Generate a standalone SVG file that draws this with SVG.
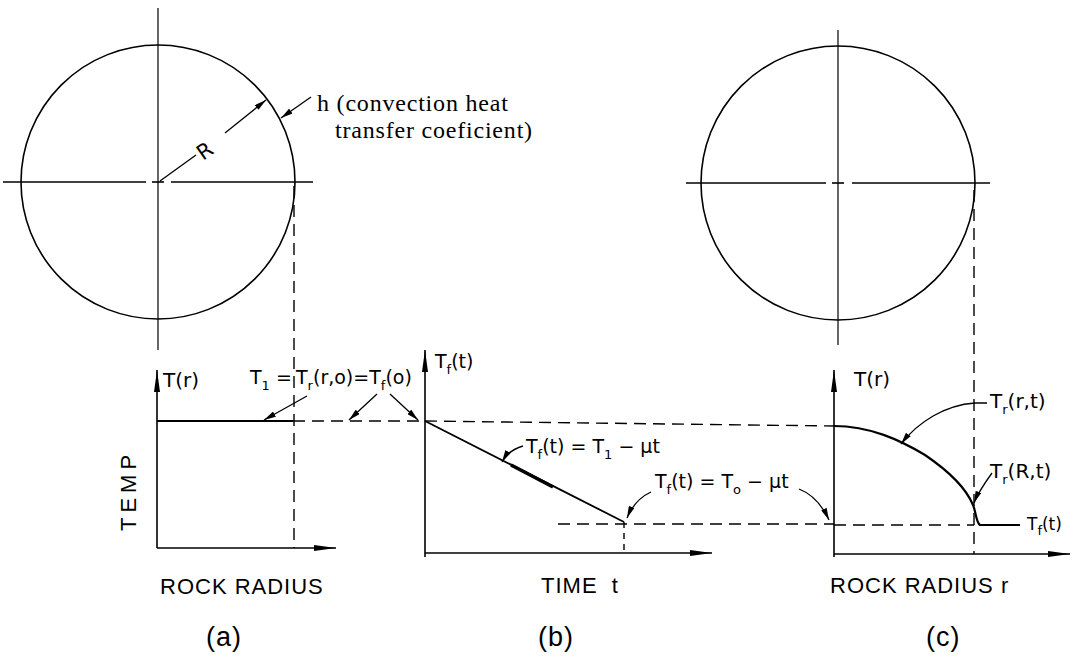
<svg xmlns="http://www.w3.org/2000/svg" width="1084" height="661" viewBox="0 0 1084 661">
<style>
.ln{stroke:#000;stroke-width:1.6;fill:none}
.th{stroke:#000;stroke-width:2.2;fill:none}
.ds{stroke:#000;stroke-width:1.4;fill:none;stroke-dasharray:12 7}
.lb{font-family:"DejaVu Sans","Liberation Sans",sans-serif;font-size:19px;fill:#000}
.cap{font-family:"Liberation Sans","DejaVu Sans",sans-serif;font-size:22px;fill:#000;letter-spacing:1px}
.sr{font-family:"Liberation Serif","Times New Roman",serif;font-size:24px;fill:#000;letter-spacing:0.8px}
.sub{font-size:13px}
</style>
<defs>
<marker id="ah" viewBox="0 0 12 6" refX="12" refY="3" markerWidth="12" markerHeight="6" markerUnits="userSpaceOnUse" orient="auto">
<path d="M0,0 L12,3 L0,6 Z" fill="#000"/>
</marker>
<marker id="ax" viewBox="0 0 22 8" refX="22" refY="4" markerWidth="22" markerHeight="8" markerUnits="userSpaceOnUse" orient="auto">
<path d="M0,1 L22,4 L0,7 Z" fill="#000"/>
</marker>
</defs>

<g id="circle-a">
<circle cx="158" cy="182" r="137" class="ln"/>
<line x1="158" y1="8" x2="158" y2="350" class="ln" style="stroke-width:1.2"/>
<line x1="3" y1="182" x2="146" y2="182" class="ln"/>
<line x1="171" y1="182" x2="313" y2="182" class="ln"/>
<line x1="152" y1="182" x2="164" y2="182" class="ln"/>
<line x1="160" y1="181" x2="196" y2="155" class="ln" style="stroke-width:1.3"/>
<line x1="225" y1="133" x2="266" y2="100" class="ln" style="stroke-width:1.3" marker-end="url(#ah)"/>
<text x="0" y="0" class="lb" style="font-size:21px" transform="translate(203,161) rotate(-35)">R</text>
<line x1="311" y1="97" x2="281" y2="118" class="ln" style="stroke-width:1.3" marker-end="url(#ah)"/>
<text x="317" y="111" class="sr">h (convection heat</text>
<text x="335" y="138" class="sr">transfer coeficient)</text>
</g>

<g id="circle-c">
<circle cx="838" cy="183" r="137" class="ln"/>
<line x1="838" y1="30" x2="838" y2="345" class="ln" style="stroke-width:1.2"/>
<line x1="686" y1="183" x2="826" y2="183" class="ln"/>
<line x1="852" y1="183" x2="990" y2="183" class="ln"/>
<line x1="832" y1="183" x2="844" y2="183" class="ln"/>
</g>

<g id="panel-a">
<line x1="157" y1="548" x2="157" y2="370" class="ln" marker-end="url(#ax)"/>
<line x1="157" y1="548" x2="336" y2="548" class="ln" marker-end="url(#ax)"/>
<line x1="157" y1="421" x2="293" y2="421" class="th"/>
<text x="163" y="387" class="lb" style="font-size:20px">T(r)</text>
<text x="0" y="0" class="cap" style="letter-spacing:5px" transform="translate(136,531) rotate(-90)">TEMP</text>
<text x="160" y="594" class="cap">ROCK RADIUS</text>
<text x="206" y="646" class="cap" style="font-size:27px">(a)</text>
<text x="250" y="384" class="lb">T<tspan class="sub" dy="6">1</tspan><tspan dy="-6"> = </tspan></text>
<text x="296" y="384" class="lb">T<tspan class="sub" dy="6">r</tspan><tspan dy="-6">(r,o)=T</tspan><tspan class="sub" dy="6">f</tspan><tspan dy="-6">(o)</tspan></text>
</g>

<g id="panel-b">
<line x1="425" y1="557" x2="425" y2="350" class="ln" marker-end="url(#ax)"/>
<line x1="425" y1="553" x2="712" y2="553" class="ln" marker-end="url(#ax)"/>
<line x1="425" y1="421" x2="624" y2="522" class="ln" style="stroke-width:1.8"/>
<line x1="511" y1="465" x2="553" y2="487" class="ln" style="stroke-width:3.5"/>
<text x="435" y="368" class="lb">T<tspan class="sub" dy="6">f</tspan><tspan dy="-6">(t)</tspan></text>
<text x="526" y="453" class="lb">T<tspan class="sub" dy="6">f</tspan><tspan dy="-6">(t) = T</tspan><tspan class="sub" dy="6">1</tspan><tspan dy="-6"> − μt</tspan></text>
<text x="655" y="488" class="lb">T<tspan class="sub" dy="6">f</tspan><tspan dy="-6">(t) = T</tspan><tspan class="sub" dy="6">o</tspan><tspan dy="-6"> − μt</tspan></text>
<text x="541" y="593" class="cap" xml:space="preserve">TIME  t</text>
<text x="538" y="646" class="cap" style="font-size:27px">(b)</text>
</g>

<g id="panel-c">
<line x1="834" y1="557" x2="834" y2="370" class="ln" marker-end="url(#ax)"/>
<line x1="834" y1="554" x2="1070" y2="554" class="ln" marker-end="url(#ax)"/>
<path d="M834,426 C870,426 900,440 925,455 C950,472 966,488 973,505 C976,512 976,522 980,525 L1020,525" class="th"/>
<text x="854" y="386" class="lb" style="font-size:20px">T(r)</text>
<text x="990" y="408" class="lb" style="font-size:20px">T<tspan class="sub" dy="6">r</tspan><tspan dy="-6">(r,t)</tspan></text>
<text x="990" y="478" class="lb" style="font-size:20px">T<tspan class="sub" dy="6">r</tspan><tspan dy="-6">(R,t)</tspan></text>
<text x="1027" y="530" class="lb" style="font-size:17px">T<tspan class="sub" dy="5">f</tspan><tspan dy="-5">(t)</tspan></text>
<text x="830" y="593" class="cap">ROCK RADIUS r</text>
<text x="926" y="646" class="cap" style="font-size:27px">(c)</text>
</g>

<g id="connectors">
<line x1="294" y1="186" x2="294" y2="548" class="ds"/>
<line x1="293" y1="421" x2="425" y2="421" class="ds"/>
<line x1="425" y1="421" x2="834" y2="426" class="ds"/>
<line x1="974" y1="190" x2="974" y2="554" class="ds"/>
<line x1="624" y1="522" x2="624" y2="553" class="ds" style="stroke-dasharray:6 5"/>
<line x1="558" y1="524" x2="834" y2="524" class="ds"/>
<line x1="834" y1="525" x2="974" y2="525" class="ds"/>
<line x1="307" y1="396" x2="264" y2="420" class="ln" style="stroke-width:1.3" marker-end="url(#ah)"/>
<line x1="377" y1="394" x2="349" y2="420" class="ln" style="stroke-width:1.3" marker-end="url(#ah)"/>
<line x1="390" y1="394" x2="418" y2="420" class="ln" style="stroke-width:1.3" marker-end="url(#ah)"/>
<path d="M523,446 C512,449 506,455 502,462" class="ln" style="stroke-width:1.3" marker-end="url(#ah)"/>
<path d="M651,492 C640,497 632,506 627,518" class="ln" style="stroke-width:1.3" marker-end="url(#ah)"/>
<path d="M799,489 C812,494 822,505 829,520" class="ln" style="stroke-width:1.3" marker-end="url(#ah)"/>
<path d="M987,403 L975,403 C945,405 918,422 901,444" class="ln" style="stroke-width:1.3" marker-end="url(#ah)"/>
<path d="M992,473 C984,484 978,493 974,503" class="ln" style="stroke-width:1.3" marker-end="url(#ah)"/>
</g>
</svg>
